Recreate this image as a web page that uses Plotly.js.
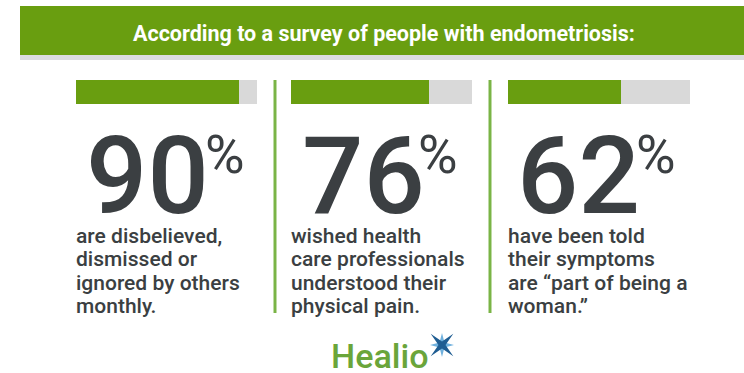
<!DOCTYPE html>
<html>
<head>
<meta charset="utf-8">
<script src="https://cdn.plot.ly/plotly-3.0.1.min.js"></script>
<style>html,body{margin:0;padding:0;background:#fff;}#chart{width:744px;height:373px;}</style>
</head>
<body>
<div id="chart"></div>
<script>
// ---- data ----
const headerTitle = 'According to a survey of people with endometriosis:';
const statValues = [90, 76, 62];
const statLabels = ['90', '76', '62'];
const totals = [100, 100, 100];
const descLines1 = ['are disbelieved,', 'dismissed or', 'ignored by others', 'monthly.'];
const descLines2 = ['wished health', 'care professionals', 'understood their', 'physical pain.'];
const descLines3 = ['have been told', 'their symptoms', 'are \u201cpart of being a', 'woman.\u201d'];
const brand = 'Healio';

// ---- layout helpers ----
const W = 744, H = 373;
const X = px => px / W;
const Y = py => 1 - py / H;
const GREEN = '#699e10', GREY = '#d9d9d9', DARK = '#3b3f42', LINE = '#7ab446';
const MED = '"Roboto Medium", Roboto';
const colLeft = [76, 291, 508];
const colRight = [257, 472, 690];
const numX = [84, 300, 515];
const pctX = [203, 416, 634];
const descs = [descLines1, descLines2, descLines3];

const traces = [];
const layout = {
  width: W, height: H, margin: {l: 0, r: 0, t: 0, b: 0},
  paper_bgcolor: '#ffffff', plot_bgcolor: 'rgba(0,0,0,0)',
  showlegend: false, hovermode: false, barmode: 'overlay', bargap: 0,
  yaxis: {domain: [Y(104), Y(80)], range: [-0.5, 0.5], visible: false, fixedrange: true},
  annotations: [], shapes: []
};

statValues.forEach((v, i) => {
  const ax = i === 0 ? 'x' : 'x' + (i + 1);
  const axName = i === 0 ? 'xaxis' : 'xaxis' + (i + 1);
  layout[axName] = {domain: [X(colLeft[i]), X(colRight[i])], range: [0, 100], visible: false, fixedrange: true, anchor: 'y'};
  traces.push({type: 'bar', orientation: 'h', x: [totals[i]], y: [0], xaxis: ax, yaxis: 'y', width: 1, marker: {color: GREY, line: {width: 0}}, hoverinfo: 'skip'});
  traces.push({type: 'bar', orientation: 'h', x: [v], y: [0], xaxis: ax, yaxis: 'y', width: 1, marker: {color: GREEN, line: {width: 0}}, hoverinfo: 'skip'});

  layout.annotations.push({xref: 'paper', yref: 'paper', x: X(numX[i]), y: Y(176), xanchor: 'left', yanchor: 'middle', showarrow: false,
    text: statLabels[i], font: {family: MED, size: 108, color: DARK}});
  layout.annotations.push({xref: 'paper', yref: 'paper', x: X(pctX[i]), y: Y(154), xanchor: 'left', yanchor: 'middle', showarrow: false,
    text: '%', font: {family: 'Roboto', size: 54, color: DARK}});
  descs[i].forEach((line, k) => {
    layout.annotations.push({xref: 'paper', yref: 'paper', x: X(colLeft[i] - 2), y: Y(236 + k * 23.3), xanchor: 'left', yanchor: 'middle', showarrow: false,
      text: line, font: {family: MED, size: 21, color: DARK}});
  });
});

// header
layout.shapes.push({type: 'rect', xref: 'paper', yref: 'paper', x0: X(20), x1: X(744), y0: Y(60), y1: Y(55), fillcolor: '#dcdce0', line: {width: 0}, layer: 'below'});
layout.shapes.push({type: 'rect', xref: 'paper', yref: 'paper', x0: X(20), x1: X(744), y0: Y(55), y1: Y(6), fillcolor: GREEN, line: {width: 0}, layer: 'below'});
layout.annotations.push({xref: 'paper', yref: 'paper', x: X(384), y: Y(33), xanchor: 'center', yanchor: 'middle', showarrow: false,
  text: '<b>' + headerTitle + '</b>', font: {family: 'Roboto', size: 21.5, color: '#ffffff'}});

// dividers
[275, 490].forEach(px => layout.shapes.push({type: 'line', xref: 'paper', yref: 'paper', x0: X(px), x1: X(px), y0: Y(80), y1: Y(313), line: {color: LINE, width: 3}}));

// brand
layout.annotations.push({xref: 'paper', yref: 'paper', x: X(329), y: Y(356), xanchor: 'left', yanchor: 'middle', showarrow: false,
  text: brand, font: {family: MED, size: 34, color: '#6aa53a'}});
function star(cx, cy, r, ri, rot, color) {
  let d = '';
  for (let k = 0; k < 8; k++) {
    const a = rot + k * Math.PI / 4;
    const rr = k % 2 === 0 ? r : ri;
    const px = cx + rr * Math.cos(a), py = cy - rr * Math.sin(a);
    d += (k === 0 ? 'M ' : ' L ') + X(px) + ' ' + Y(py);
  }
  return {type: 'path', xref: 'paper', yref: 'paper', path: d + ' Z', fillcolor: color, line: {width: 0}};
}
layout.shapes.push(star(442, 345, 12, 3.5, 0, '#6fb0dd'));
layout.shapes.push(star(442, 345, 16, 3.5, Math.PI / 4, '#1f5d92'));

Plotly.newPlot('chart', traces, layout, {displayModeBar: false, staticPlot: true});
</script>
</body>
</html>
